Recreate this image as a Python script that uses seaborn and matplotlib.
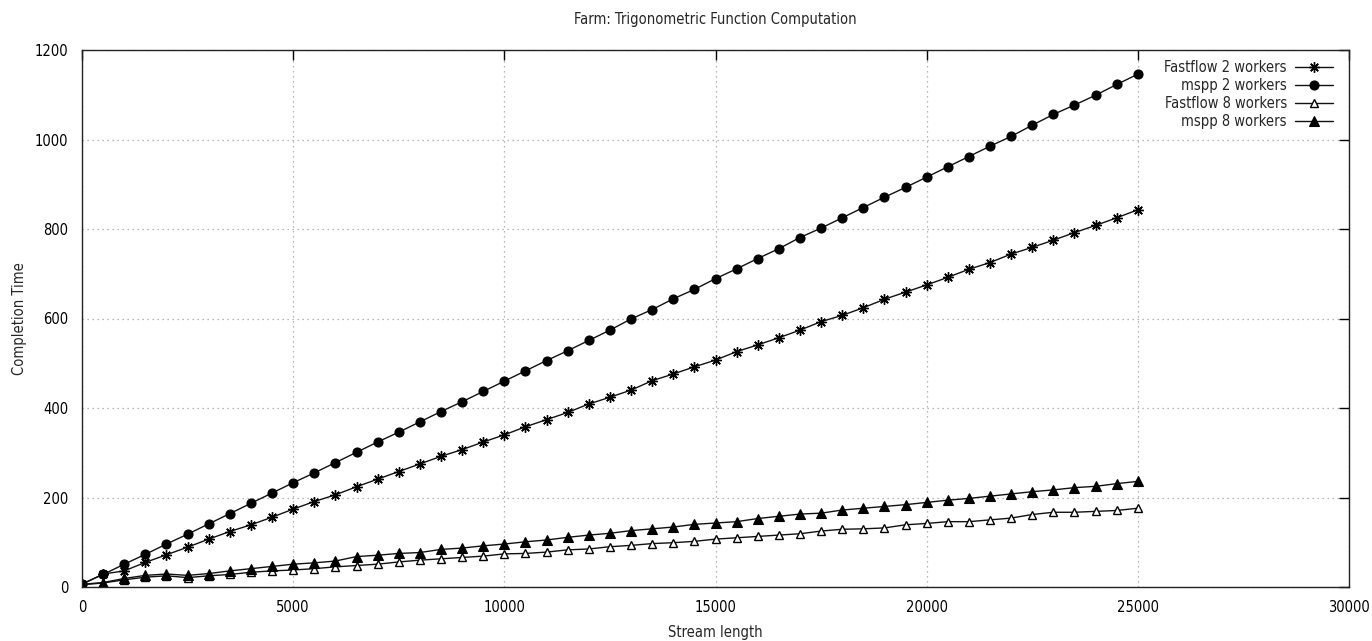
import numpy as np
import pandas as pd
import matplotlib
matplotlib.use("Agg")
import matplotlib.pyplot as plt
import seaborn as sns

# Stream lengths (every 500 elements)
stream_length = list(range(0, 25001, 500))

fastflow_2 = [6, 29, 36, 55, 72, 89, 107, 124, 139, 156, 174, 191, 206, 224, 241,
              258, 275, 292, 307, 324, 340, 358, 374, 390, 409, 424, 440, 461, 476,
              492, 507, 526, 541, 557, 574, 593, 607, 624, 643, 659, 675, 692, 710,
              725, 744, 759, 775, 792, 808, 825, 843]

mspp_2 = [7, 28, 51, 73, 96, 118, 141, 164, 187, 210, 233, 255, 278, 301, 324,
          346, 369, 392, 414, 437, 460, 483, 506, 528, 551, 574, 599, 620, 644,
          665, 689, 711, 734, 756, 781, 802, 825, 848, 871, 893, 916, 939, 962,
          985, 1007, 1032, 1056, 1077, 1099, 1123, 1146]

fastflow_8 = [5, 9, 16, 22, 25, 21, 25, 28, 33, 36, 38, 41, 45, 48, 51, 56, 60,
              63, 66, 69, 74, 75, 78, 83, 85, 90, 93, 97, 99, 102, 107, 110, 113,
              116, 119, 125, 129, 130, 132, 139, 142, 146, 146, 150, 154, 162, 167,
              167, 169, 171, 176]

mspp_8 = [6, 10, 19, 26, 29, 26, 30, 36, 41, 46, 51, 54, 58, 68, 71, 75, 77, 84,
          87, 92, 96, 101, 105, 111, 116, 120, 126, 130, 134, 140, 143, 146, 153,
          158, 163, 165, 172, 176, 180, 184, 189, 194, 198, 203, 208, 213, 217,
          222, 225, 231, 236]

series_labels = ["Fastflow 2 workers", "mspp 2 workers",
                 "Fastflow 8 workers", "mspp 8 workers"]
x_ticks = [0, 5000, 10000, 15000, 20000, 25000, 30000]
y_ticks = [0, 200, 400, 600, 800, 1000, 1200]

sns.set_style("white")
plt.rcParams["font.family"] = ["DejaVu Sans"]
plt.rcParams["font.stretch"] = "condensed"
plt.rcParams["font.size"] = 10.5

df = pd.DataFrame({
    "Stream length": stream_length,
    series_labels[0]: fastflow_2,
    series_labels[1]: mspp_2,
    series_labels[2]: fastflow_8,
    series_labels[3]: mspp_8,
})

fig = plt.figure(figsize=(13.72, 6.41), dpi=100)
ax = fig.add_axes([82 / 1372, 1 - 587 / 641, (1349 - 82) / 1372, (587 - 50) / 641])

styles = {
    series_labels[0]: dict(marker=(8, 2, 0), markersize=7.5, markerfacecolor="black",
                           markeredgewidth=1.0),
    series_labels[1]: dict(marker="o", markersize=6.5, markerfacecolor="black",
                           markeredgewidth=0.8),
    series_labels[2]: dict(marker="^", markersize=6, markerfacecolor="white",
                           markeredgewidth=1.0),
    series_labels[3]: dict(marker="^", markersize=6.5, markerfacecolor="black",
                           markeredgewidth=0.8),
}

for name in series_labels:
    sns.lineplot(data=df, x="Stream length", y=name, ax=ax, color="#111111",
                 linewidth=1.0, markeredgecolor="black", label=name,
                 legend=False, **styles[name])

ax.set_xlim(0, 30000)
ax.set_ylim(0, 1200)
ax.set_xticks(x_ticks)
ax.set_yticks(y_ticks)
ax.set_xticklabels([str(t) for t in x_ticks])
ax.set_yticklabels([str(t) for t in y_ticks])

ax.grid(True, color="#a0a0a0", linestyle=(0, (1, 3)), linewidth=0.9)
ax.tick_params(direction="in", length=7, width=1, top=True, right=True,
               labelsize=10.5, pad=9, colors="black")
ax.tick_params(axis="y", pad=10)
for spine in ax.spines.values():
    spine.set_linewidth(1.0)
    spine.set_color("#222222")

ax.set_xlabel("Stream length", fontsize=10.5)
ax.xaxis.set_label_coords(0.5, -(625 - 587) / 537)
ax.set_ylabel("Completion Time", fontsize=10.5)
ax.yaxis.set_label_coords(-(82 - 27) / 1267, 0.5)
ax.set_title("Farm: Trigonometric Function Computation", fontsize=10.5, pad=19)

handles = ax.get_lines()[:4]
leg = ax.legend(handles=handles, labels=series_labels, loc="upper right",
                markerfirst=False, frameon=False, fontsize=10.5, handlelength=2.6,
                handletextpad=0.55, labelspacing=0.2, borderaxespad=0.3,
                bbox_to_anchor=(1.0 - 6 / 1267, 1.0))

fig.savefig("out.png", dpi=100)
